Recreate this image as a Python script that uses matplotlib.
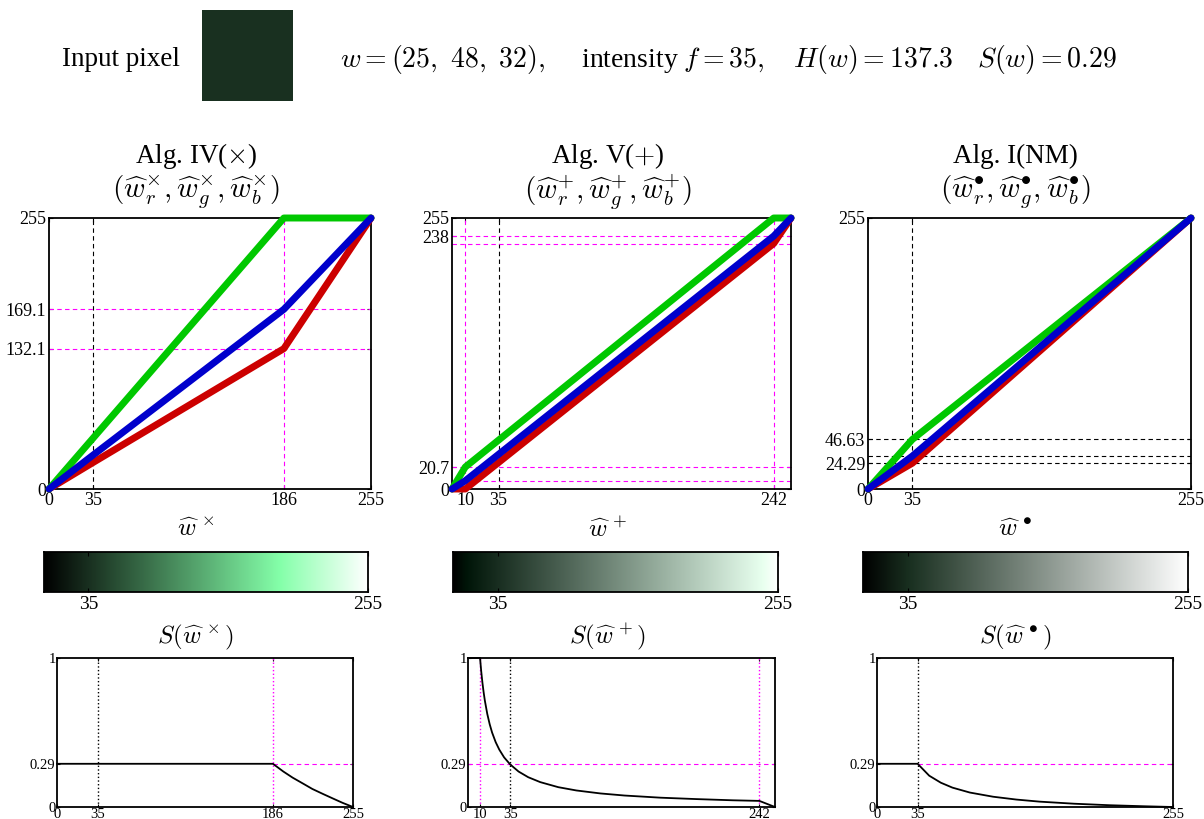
import numpy as np
import matplotlib
matplotlib.use("Agg")
import matplotlib.pyplot as plt

OUTPUT_PNG = "out.png"

plt.rcParams["font.family"] = "serif"
plt.rcParams["font.serif"] = ["Liberation Serif", "DejaVu Serif"]
plt.rcParams["mathtext.fontset"] = "cm"

# input pixel
INPUT_RGB = [25, 48, 32]
INTENSITY = 35
HUE = 137.3
SAT = 0.29

# Alg. IV (x): channel curves vs target intensity
IV_X = [0, 35, 186, 255]
IV_R = [0, 25, 132.1, 255]
IV_G = [0, 48, 255, 255]
IV_B = [0, 32, 169.1, 255]
IV_VLINES = [186]
IV_HLINES = [132.1, 169.1]
IV_XTICKS = [0, 35, 186, 255]
IV_YTICKS = [0, 132.1, 169.1, 255]
IV_S_X = [0, 35, 186, 195, 203, 212, 220, 229, 238, 246, 255]
IV_S = [0.29, 0.29, 0.29, 0.238, 0.197, 0.157, 0.121, 0.088, 0.056, 0.028, 0.0]

# Alg. V (+)
V_X = [0, 10, 242, 255]
V_R = [0, 0, 231, 255]
V_G = [0, 20.7, 255, 255]
V_B = [0, 7.8, 238, 255]
V_VLINES = [10, 242]
V_HLINES = [7.8, 20.7, 231, 238]
V_XTICKS = [10, 35, 242]
V_YTICKS = [0, 20.7, 238, 255]
V_S_X = [0, 10, 11, 12, 13, 14, 16, 18, 20, 23, 26, 30, 35, 42, 50, 60, 75,
         90, 110, 130, 160, 190, 220, 242, 255]
V_S = [1.0, 1.0, 0.909, 0.833, 0.769, 0.714, 0.625, 0.556, 0.5, 0.435, 0.385,
       0.333, 0.286, 0.238, 0.2, 0.167, 0.133, 0.111, 0.091, 0.077, 0.0625,
       0.053, 0.045, 0.041, 0.0]

# Alg. I (NM)
NM_X = [0, 35, 255]
NM_R = [0, 24.29, 255]
NM_G = [0, 46.63, 255]
NM_B = [0, 31.0, 255]
NM_HLINES = [24.29, 31.0, 46.63]
NM_XTICKS = [0, 35, 255]
NM_YTICKS = [0, 24.29, 46.63, 255]
NM_S_X = [0, 35, 45, 55, 65, 80, 100, 120, 140, 170, 200, 230, 255]
NM_S = [0.29, 0.29, 0.21, 0.163, 0.13, 0.097, 0.069, 0.05, 0.036, 0.022,
        0.012, 0.005, 0.0]

RED = "#cc0000"
GREEN = "#00c800"
BLUE = "#0000cc"
MAGENTA = "#ff00ff"

W, H = 1204, 819


def fx(px):
    return px / W


def fy(py):
    return 1 - py / H


def style_ticks(ax, size):
    ax.tick_params(direction="in", length=3, width=0.8, top=True, right=True,
                   labelsize=size, pad=2)
    for sp in ax.spines.values():
        sp.set_linewidth(1.3)


def draw_curves(ax, x, r, g, b, xticks, yticks):
    for vals, col in ((r, RED), (g, GREEN), (b, BLUE)):
        ax.plot(x, vals, color=col, lw=5, solid_capstyle="round",
                solid_joinstyle="round", clip_on=False, zorder=3)
    ax.set_xlim(0, 255)
    ax.set_ylim(0, 255)
    ax.set_xticks(xticks)
    ax.set_yticks(yticks)
    ax.set_xticklabels([f"{t:g}" for t in xticks])
    ax.set_yticklabels([f"{t:g}" for t in yticks])
    style_ticks(ax, 13)


def draw_bar(ax, x, r, g, b):
    v = np.linspace(0, 255, 256)
    rgb = np.stack([np.interp(v, x, r), np.interp(v, x, g), np.interp(v, x, b)], axis=-1)
    ax.imshow(rgb[None, :, :] / 255.0, extent=[0, 255, 0, 1], aspect="auto")
    ax.set_xlim(0, 255)
    ax.set_ylim(0, 1)
    ax.set_xticks([INTENSITY, 255])
    ax.set_yticks([])
    ax.tick_params(direction="in", length=3, width=0.8, top=True,
                   labelsize=14, pad=3)
    for sp in ax.spines.values():
        sp.set_linewidth(1.3)


def draw_sat(ax, sx, s, xticks):
    ax.plot(sx, s, color="k", lw=1.3, zorder=3, clip_on=False)
    ax.set_xlim(0, 255)
    ax.set_ylim(0, 1)
    ax.set_xticks(xticks)
    ax.set_yticks([0, SAT, 1])
    ax.set_yticklabels(["0", f"{SAT:g}", "1"])
    style_ticks(ax, 10.5)
    ax.tick_params(length=2, pad=1)


fig = plt.figure(figsize=(W / 100, H / 100), dpi=100)

# header
fig.text(fx(62), fy(60), "Input pixel", fontsize=19.5, va="center", ha="left")
ax_px = fig.add_axes([fx(202), fy(101), fx(91), 91 / H])
ax_px.imshow(np.array([[INPUT_RGB]], dtype=np.uint8), aspect="auto")
ax_px.axis("off")
header = (rf"$w = ({INPUT_RGB[0]},\ {INPUT_RGB[1]},\ {INPUT_RGB[2]}),\quad$"
          rf" intensity $f = {INTENSITY},\quad H(w) = {HUE}\quad S(w) = {SAT}$")
fig.text(fx(340), fy(60), header, fontsize=20, va="center", ha="left")

top_boxes = [(49, 371), (452, 791), (868, 1191)]
bar_boxes = [(44, 368), (453, 778), (863, 1188)]
sat_boxes = [(57, 353), (468, 775), (877, 1173)]

titles = ["Alg. IV($\\times$)", "Alg. V($+$)", "Alg. I(NM)"]
marks = ["\\times", "+", "\\bullet"]

ax_top = []
for (l, r) in top_boxes:
    ax_top.append(fig.add_axes([fx(l), fy(489), fx(r - l), (489 - 218) / H]))
ax_bar = [fig.add_axes([fx(l), fy(592), fx(r - l), 40 / H]) for (l, r) in bar_boxes]
ax_sat = [fig.add_axes([fx(l), fy(807), fx(r - l), 149 / H]) for (l, r) in sat_boxes]

# Alg. IV
a = ax_top[0]
draw_curves(a, IV_X, IV_R, IV_G, IV_B, IV_XTICKS, IV_YTICKS)
a.axvline(INTENSITY, color="k", ls=(0, (4, 3)), lw=0.8, zorder=2)
for v in IV_VLINES:
    a.axvline(v, color=MAGENTA, ls=(0, (4, 3)), lw=0.8, zorder=2)
for h in IV_HLINES:
    a.axhline(h, color=MAGENTA, ls=(0, (4, 3)), lw=0.8, zorder=2)

# Alg. V
a = ax_top[1]
draw_curves(a, V_X, V_R, V_G, V_B, V_XTICKS, V_YTICKS)
a.axvline(INTENSITY, color="k", ls=(0, (4, 3)), lw=0.8, zorder=2)
for v in V_VLINES:
    a.axvline(v, color=MAGENTA, ls=(0, (4, 3)), lw=0.8, zorder=2)
for h in V_HLINES:
    a.axhline(h, color=MAGENTA, ls=(0, (4, 3)), lw=0.8, zorder=2)

# Alg. I (NM)
a = ax_top[2]
draw_curves(a, NM_X, NM_R, NM_G, NM_B, NM_XTICKS, NM_YTICKS)
a.axvline(INTENSITY, color="k", ls=(0, (4, 3)), lw=0.8, zorder=2)
for h in NM_HLINES:
    a.axhline(h, color="k", ls=(0, (4, 3)), lw=0.8, zorder=2)

# color bars
draw_bar(ax_bar[0], IV_X, IV_R, IV_G, IV_B)
draw_bar(ax_bar[1], V_X, V_R, V_G, V_B)
draw_bar(ax_bar[2], NM_X, NM_R, NM_G, NM_B)

# saturation plots
a = ax_sat[0]
draw_sat(a, IV_S_X, IV_S, IV_XTICKS)
a.axvline(INTENSITY, color="k", ls=":", lw=1.0)
a.axvline(IV_VLINES[0], color=MAGENTA, ls=":", lw=1.0)
a.plot([IV_VLINES[0], 255], [SAT, SAT], color=MAGENTA, ls=(0, (4, 3)), lw=0.8)

a = ax_sat[1]
draw_sat(a, V_S_X, V_S, V_XTICKS)
a.axvline(INTENSITY, color="k", ls=":", lw=1.0)
for v in V_VLINES:
    a.axvline(v, color=MAGENTA, ls=":", lw=1.0)
a.axhline(SAT, color=MAGENTA, ls=(0, (4, 3)), lw=0.8)

a = ax_sat[2]
draw_sat(a, NM_S_X, NM_S, NM_XTICKS)
a.axvline(INTENSITY, color="k", ls=":", lw=1.0)
a.plot([INTENSITY, 255], [SAT, SAT], color=MAGENTA, ls=(0, (4, 3)), lw=0.8)

# text labels above each column
for i, (l, r) in enumerate(top_boxes):
    cx = fx((l + r) / 2 - 14)
    m = marks[i]
    fig.text(cx, fy(156), titles[i], fontsize=19.5, ha="center", va="center")
    sub = (rf"$(\widehat{{w}}_r^{{{m}}}, \widehat{{w}}_g^{{{m}}}, "
           rf"\widehat{{w}}_b^{{{m}}})$")
    fig.text(cx, fy(192), sub, fontsize=21, ha="center", va="center")
    fig.text(cx, fy(530), rf"$\widehat{{w}}^{{\,{m}}}$", fontsize=18,
             ha="center", va="center")
    fig.text(cx, fy(637), rf"$S(\widehat{{w}}^{{\,{m}}})$", fontsize=18,
             ha="center", va="center")

fig.savefig(OUTPUT_PNG, dpi=100)
plt.close(fig)
